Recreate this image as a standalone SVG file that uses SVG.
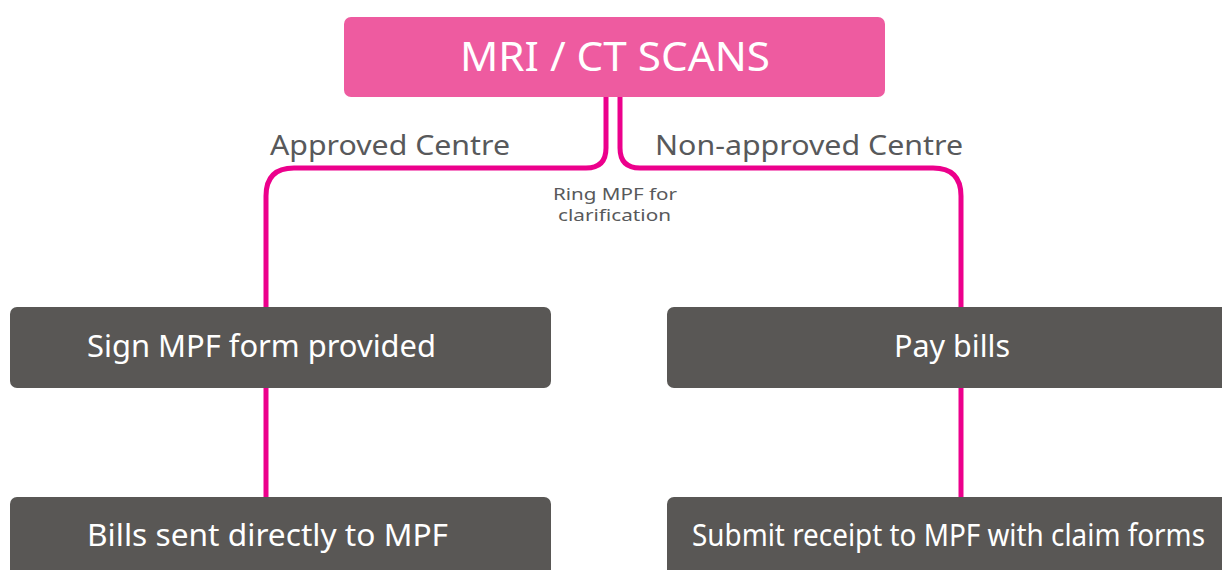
<svg xmlns="http://www.w3.org/2000/svg" width="1222" height="570" viewBox="0 0 1222 570">
<style>
.pink{fill:#EE5BA0}
.dark{fill:#595755}
.wt{fill:#ffffff;font-family:"Noto Sans","Open Sans",sans-serif}
.lbl{fill:#58595b;font-family:"Noto Sans","Open Sans",sans-serif}
.conn{fill:none;stroke:#EC008C;stroke-width:5}
</style>
<rect width="1222" height="570" fill="#ffffff"/>
<g id="connectors">
<path class="conn" d="M606,97 V148 Q606,168 586,168 H294 Q266,168 266,196 V308"/>
<path class="conn" d="M620,97 V148 Q620,168 640,168 H933 Q961,168 961,196 V308"/>
<path class="conn" d="M266,388 V497"/>
<path class="conn" d="M961,388 V497"/>
</g>
<g id="label-approved"><text class="lbl" x="270" y="155" font-size="28" textLength="240" lengthAdjust="spacingAndGlyphs">Approved Centre</text></g>
<g id="label-nonapproved"><text class="lbl" x="655" y="155" font-size="28" textLength="308" lengthAdjust="spacingAndGlyphs">Non-approved Centre</text></g>
<g id="label-ring"><text class="lbl" x="553" y="200" font-size="17" textLength="124" lengthAdjust="spacingAndGlyphs">Ring MPF for</text><text class="lbl" x="558" y="221" font-size="17" textLength="113" lengthAdjust="spacingAndGlyphs">clarification</text></g>
<g id="node-mri"><rect class="pink" x="344" y="17" width="541" height="80" rx="7"/><text class="wt" x="460" y="71" font-size="40" textLength="310" lengthAdjust="spacingAndGlyphs">MRI / CT SCANS</text></g>
<g id="node-sign"><rect class="dark" x="10" y="307" width="541" height="81" rx="7"/><text class="wt" x="87" y="357" font-size="30" textLength="349" lengthAdjust="spacingAndGlyphs">Sign MPF form provided</text></g>
<g id="node-bills"><rect class="dark" x="10" y="497" width="541" height="90" rx="7"/><text class="wt" x="87" y="546" font-size="30" textLength="361" lengthAdjust="spacingAndGlyphs">Bills sent directly to MPF</text></g>
<g id="node-pay"><rect class="dark" x="667" y="307" width="570" height="81" rx="7"/><text class="wt" x="894" y="357" font-size="30" textLength="116" lengthAdjust="spacingAndGlyphs">Pay bills</text></g>
<g id="node-submit"><rect class="dark" x="667" y="497" width="570" height="90" rx="7"/><text class="wt" x="692" y="546" font-size="30" textLength="513" lengthAdjust="spacingAndGlyphs">Submit receipt to MPF with claim forms</text></g>
</svg>
